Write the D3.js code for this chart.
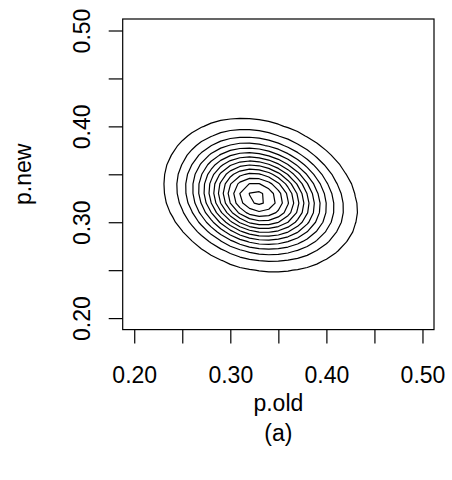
<!DOCTYPE html>
<html>
<head>
<meta charset="utf-8">
<script src="https://cdn.jsdelivr.net/npm/d3@7"></script>
<style>
  body { margin: 0; background: #fff; }
  text { font-family: "Liberation Sans", Arial, sans-serif; fill: #000; }
</style>
</head>
<body>
<div id="chart"></div>
<script>
// Axis ticks (R style: every tick drawn, every other one labelled)
const xTicks = [0.20, 0.25, 0.30, 0.35, 0.40, 0.45, 0.50];
const xTickLabels = ["0.20", "", "0.30", "", "0.40", "", "0.50"];
const yTicks = [0.20, 0.25, 0.30, 0.35, 0.40, 0.45, 0.50];
const yTickLabels = ["0.20", "", "0.30", "", "0.40", "", "0.50"];

// Surface: mode, spread on each side, correlation
const mode = [0.328, 0.3253];          // p.old, p.new
const sdOld = [0.0420, 0.0451];        // left / right of mode
const sdNew = [0.0333, 0.0358];        // below / above mode
const rho = [-0.17];

// Contour levels, as a fraction of the peak height
const levels = [0.07, 0.14, 0.21, 0.28, 0.35, 0.42, 0.49, 0.56, 0.63, 0.70, 0.77, 0.84, 0.91, 0.975];

const width = 452;
const height = 480;
const plot = { left: 122.7, right: 434, top: 19, bottom: 329.6 };

const x = d3.scaleLinear().domain([0.188, 0.512]).range([plot.left, plot.right]);
const y = d3.scaleLinear().domain([0.188, 0.512]).range([plot.bottom, plot.top]);

const svg = d3.select("#chart")
    .append("svg")
    .attr("width", width)
    .attr("height", height);

// Evaluate the surface on a coarse grid, like contour() in R
const step = 0.01, gx0 = 0.15, gy0 = 0.15, nx = 38, ny = 38;
const values = new Float64Array(nx * ny);
const r = rho[0];
for (let j = 0; j < ny; j++) {
    for (let i = 0; i < nx; i++) {
        const px = gx0 + i * step, py = gy0 + j * step;
        const u = (px - mode[0]) / (px < mode[0] ? sdOld[0] : sdOld[1]);
        const v = (py - mode[1]) / (py < mode[1] ? sdNew[0] : sdNew[1]);
        values[j * nx + i] = Math.exp(-(u * u - 2 * r * u * v + v * v) / (2 * (1 - r * r)));
    }
}

const contours = d3.contours().size([nx, ny]).thresholds(levels)(values);

const toPlot = d3.geoTransform({
    point(gx, gy) {
        this.stream.point(x(gx0 + (gx - 0.5) * step), y(gy0 + (gy - 0.5) * step));
    }
});
const path = d3.geoPath(toPlot);

svg.append("g")
    .attr("fill", "none")
    .attr("stroke", "#000")
    .attr("stroke-width", 1.2)
    .attr("stroke-linejoin", "round")
    .selectAll("path")
    .data(contours)
    .join("path")
    .attr("d", path);

// Box
svg.append("rect")
    .attr("x", plot.left)
    .attr("y", plot.top)
    .attr("width", plot.right - plot.left)
    .attr("height", plot.bottom - plot.top)
    .attr("fill", "none")
    .attr("stroke", "#000")
    .attr("stroke-width", 1.2);

// x axis
const xAxis = svg.append("g")
    .attr("transform", `translate(0,${plot.bottom})`)
    .call(d3.axisBottom(x)
        .tickValues(xTicks)
        .tickSize(14)
        .tickSizeOuter(0)
        .tickFormat((d, i) => xTickLabels[i]));
xAxis.select(".domain").remove();
xAxis.selectAll(".tick line").attr("stroke", "#000").attr("stroke-width", 1.2);
xAxis.selectAll(".tick text")
    .attr("y", 53.4)
    .attr("dy", 0)
    .style("font-size", "23px")
    .attr("fill", "#000");

// y axis
const yAxis = svg.append("g")
    .attr("transform", `translate(${plot.left},0)`)
    .call(d3.axisLeft(y)
        .tickValues(yTicks)
        .tickSize(14)
        .tickSizeOuter(0)
        .tickFormat((d, i) => yTickLabels[i]));
yAxis.select(".domain").remove();
yAxis.selectAll(".tick line").attr("stroke", "#000").attr("stroke-width", 1.2);
yAxis.selectAll(".tick text")
    .attr("transform", "rotate(-90)")
    .attr("x", 0)
    .attr("y", -32.7)
    .attr("dy", 0)
    .attr("text-anchor", "middle")
    .style("font-size", "23px")
    .attr("fill", "#000");
svg.selectAll(".tick text").attr("font-family", null).attr("font-size", null);

// Axis titles
svg.append("text")
    .attr("transform", `translate(31,${(plot.top + plot.bottom) / 2}) rotate(-90)`)
    .attr("text-anchor", "middle")
    .style("font-size", "23px")
    .text("p.new");

svg.append("text")
    .attr("x", (plot.left + plot.right) / 2)
    .attr("y", 411)
    .attr("text-anchor", "middle")
    .style("font-size", "23px")
    .text("p.old");

svg.append("text")
    .attr("x", (plot.left + plot.right) / 2)
    .attr("y", 441)
    .attr("text-anchor", "middle")
    .style("font-size", "23px")
    .text("(a)");
</script>
</body>
</html>
